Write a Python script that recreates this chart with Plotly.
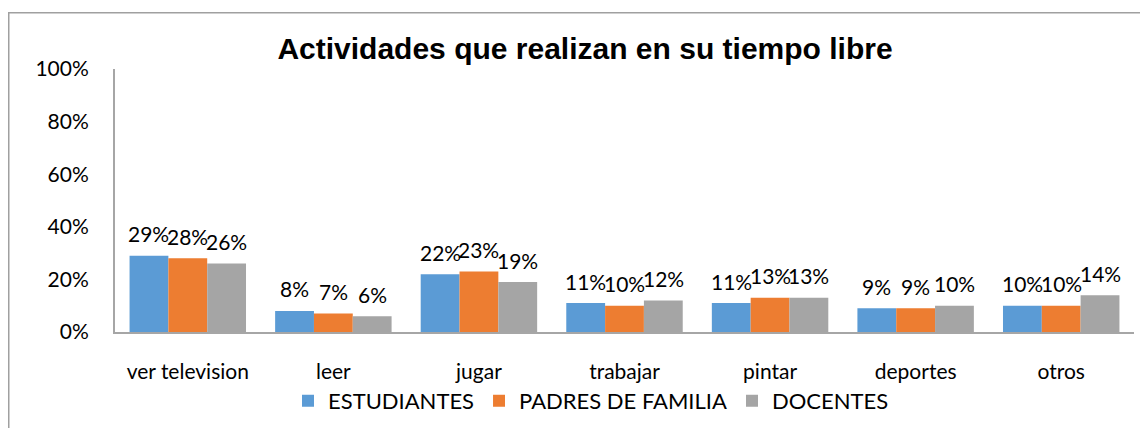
import plotly.graph_objects as go

categories = ["ver television", "leer", "jugar", "trabajar", "pintar", "deportes", "otros"]
estudiantes = [29, 8, 22, 11, 11, 9, 10]
padres = [28, 7, 23, 10, 13, 9, 10]
docentes = [26, 6, 19, 12, 13, 10, 14]
series_names = ["ESTUDIANTES", "PADRES DE FAMILIA", "DOCENTES"]
colors = ["#5b9bd5", "#ed7d31", "#a5a5a5"]
y_ticks = [0, 20, 40, 60, 80, 100]
y_tick_text = [f"{v}%" for v in y_ticks]

# page offset (default 8px body margin in the html page, both sides)
OFF = 8
W, H = 1148 - 2 * OFF, 436 - 2 * OFF
# plot area in page pixels: x 115..1134, y 69..336
L, T = 115 - OFF, 69 - OFF
R = W - (1134 - OFF)
B = H - (336 - OFF)
pw, ph = W - L - R, H - T - B
BARGAP = 0.2

def px_x(p):  # page pixel -> paper x
    return (p - OFF - L) / pw

def px_y(p):  # page pixel -> paper y
    return (H - B - (p - OFF)) / ph

fig = go.Figure()
all_series = [estudiantes, padres, docentes]
for name, vals, col in zip(series_names, all_series, colors):
    fig.add_trace(go.Bar(
        x=categories, y=vals, name=name,
        marker=dict(color=col, line=dict(width=0)),
        cliponaxis=False,
    ))

bar_w = pw / len(categories) * (1 - BARGAP) / len(all_series)
annotations = []
for i, vals in enumerate(all_series):
    for c, v in zip(categories, vals):
        annotations.append(dict(
            x=c, y=v, xref="x", yref="y", text=f"{v}%", showarrow=False,
            xshift=(i - 1) * bar_w, yshift=22, yanchor="middle", xanchor="center",
            font=dict(family="Lato", size=21, color="#000000"),
        ))

fig.update_layout(
    width=W, height=H,
    margin=dict(l=L, r=R, t=T, b=B),
    paper_bgcolor="white", plot_bgcolor="white",
    barmode="group", bargap=BARGAP, bargroupgap=0,
    font=dict(family="Lato", size=21, color="#000000"),
    title=dict(text="<b>Actividades que realizan en su tiempo libre</b>",
               font=dict(family="Liberation Sans", size=30, color="#000000"),
               x=px_x(585), xref="paper", xanchor="center",
               y=1 - (48 - OFF) / H, yanchor="middle"),
    showlegend=True,
    legend=dict(orientation="h", x=px_x(591), xanchor="center",
                y=px_y(406), yanchor="middle",
                font=dict(family="Lato", size=22, color="#000000"),
                bgcolor="rgba(0,0,0,0)"),
    xaxis=dict(showline=True, linecolor="#a6a6a6", linewidth=2, showgrid=False,
               ticks="", ticklabelstandoff=20, tickfont=dict(size=21)),
    yaxis=dict(range=[0, 100], tickvals=y_ticks, ticktext=y_tick_text,
               showline=True, linecolor="#a6a6a6", linewidth=2, showgrid=False,
               zeroline=False, ticks="", ticklabelstandoff=20, tickfont=dict(size=21)),
    annotations=annotations,
    shapes=[dict(type="rect", xref="paper", yref="paper",
                 x0=px_x(8.75), x1=px_x(1400), y0=px_y(700), y1=px_y(12),
                 line=dict(color="#a0a0a0", width=1.5), fillcolor="rgba(0,0,0,0)",
                 layer="below")],
)

fig.write_html("out.html")
